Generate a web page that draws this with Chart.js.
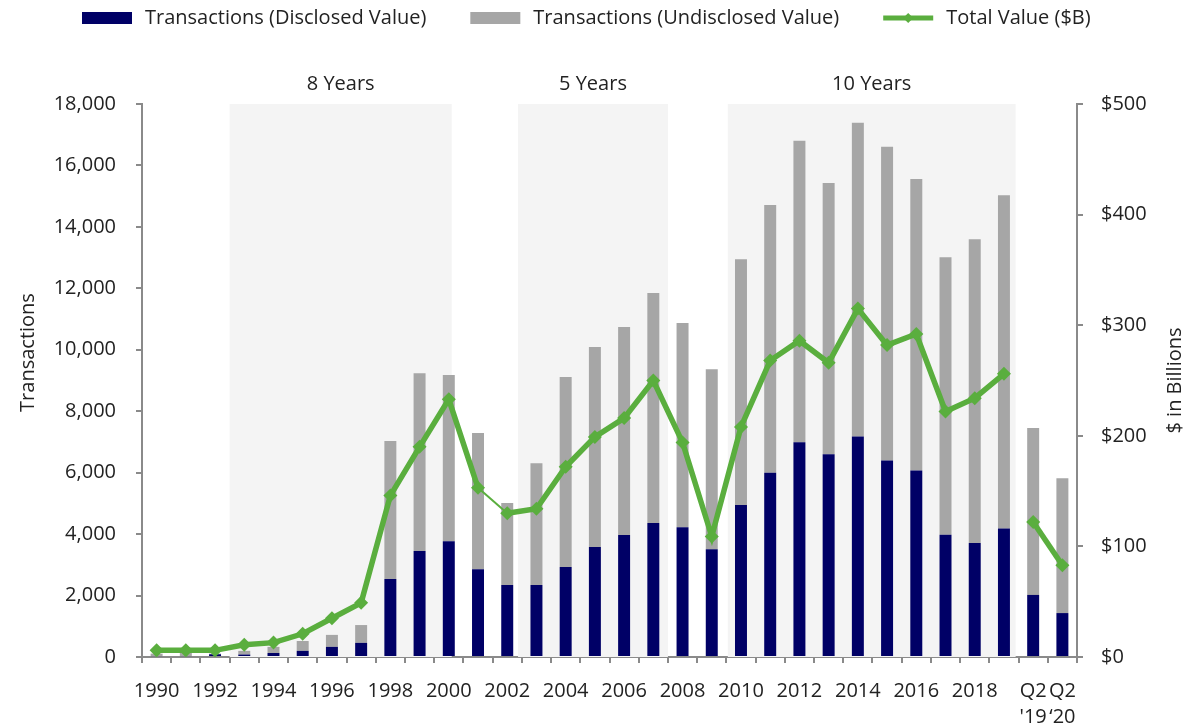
<!DOCTYPE html>
<html>
<head>
<meta charset="utf-8">
<title>Transactions and Total Value</title>
<script src="https://cdn.jsdelivr.net/npm/chart.js@4.4.0/dist/chart.umd.min.js"></script>
<style>
  html, body { margin: 0; padding: 0; background: #fff; }
  #wrap { width: 1198px; height: 728px; position: relative; }
</style>
</head>
<body>
<div id="wrap"><canvas id="dealsChart"></canvas></div>
<script>
// -------------------
// DATA

const years = [
  "1990", "1991", "1992", "1993", "1994", "1995", "1996", "1997", "1998", "1999",
  "2000", "2001", "2002", "2003", "2004", "2005", "2006", "2007", "2008", "2009",
  "2010", "2011", "2012", "2013", "2014", "2015", "2016", "2017", "2018", "2019",
  ["Q2", "'19"], ["Q2", "\u201820"],
];

// number of transactions with a disclosed value
const disclosed = [
  30, 30, 90, 80, 130, 200, 330, 460, 2540, 3450,
  3770, 2860, 2340, 2340, 2930, 3580, 3970, 4360, 4220, 3510,
  4950, 6000, 6990, 6600, 7180, 6400, 6070, 3980, 3710, 4180,
  2020, 1430,
];

// number of transactions without a disclosed value
const undisclosed = [
  80, 100, 20, 120, 200, 320, 390, 580, 4490, 5790,
  5410, 4430, 2670, 3970, 6180, 6510, 6770, 7490, 6650, 5860,
  8000, 8710, 9810, 8830, 10210, 10210, 9490, 9030, 9890, 10850,
  5430, 4390,
];

// total value, $B
const totalValue = [
  6, 6, 6, 11, 13, 21, 35, 49, 146, 190,
  233, 153, 130, 134, 172, 199, 216, 250, 194, 109,
  208, 268, 286, 266, 315, 282, 292, 222, 234, 256,
  122, 83,
];

const seriesNames = ["Transactions (Disclosed Value)", "Transactions (Undisclosed Value)", "Total Value ($B)"];
const periodLabels = ["8 Years", "5 Years", "10 Years"];

// -------------------
// STYLE

const NAVY = "#000066";
const GREY = "#a6a6a6";
const GREEN = "#5aae3e";
const AXIS = "#8a8a8a";
const TEXT = "#222222";
const FONT = "'Open Sans', sans-serif";

// shaded periods, in category index units
const periodSpans = [
  [2.5, 10.1],
  [12.37, 17.5],
  [19.55, 29.4],
];

Chart.defaults.font.family = FONT;
Chart.defaults.font.size = 20;
Chart.defaults.color = TEXT;

// -------------------
// PLUGINS

const periodBands = {
  id: "periodBands",
  beforeDatasetsDraw(chart) {
    const { ctx, chartArea, scales } = chart;
    ctx.save();
    ctx.fillStyle = "#f4f4f4";
    periodSpans.forEach(([from, to]) => {
      const x1 = scales.x.getPixelForValue(from);
      const x2 = scales.x.getPixelForValue(to);
      ctx.fillRect(x1, chartArea.top, x2 - x1, chartArea.bottom - chartArea.top);
    });
    ctx.restore();
  },
  afterDraw(chart) {
    const { ctx, scales } = chart;
    ctx.save();
    ctx.font = `20px ${FONT}`;
    ctx.fillStyle = TEXT;
    ctx.textAlign = "center";
    ctx.textBaseline = "middle";
    periodSpans.forEach(([from, to], i) => {
      const cx = (scales.x.getPixelForValue(from) + scales.x.getPixelForValue(to)) / 2;
      ctx.fillText(periodLabels[i], cx, 84);
    });
    ctx.restore();
  },
};

// axis titles, both reading bottom to top
const axisTitles = {
  id: "axisTitles",
  afterDraw(chart) {
    const { ctx, chartArea } = chart;
    const mid = (chartArea.top + chartArea.bottom) / 2;
    const titles = [
      ["Transactions", 28, mid - 28],
      ["$ in Billions", chart.scales.y1.right - 23, mid],
    ];
    ctx.save();
    ctx.font = `20px ${FONT}`;
    ctx.fillStyle = TEXT;
    ctx.textAlign = "center";
    ctx.textBaseline = "middle";
    titles.forEach(([text, x, y]) => {
      ctx.save();
      ctx.translate(x, y);
      ctx.rotate(-Math.PI / 2);
      ctx.fillText(text, 0, 0);
      ctx.restore();
    });
    ctx.restore();
  },
};

const legendRow = {
  id: "legendRow",
  afterDraw(chart) {
    const ctx = chart.ctx;
    const y = 18;
    let x = 82;
    ctx.save();
    ctx.font = `20px ${FONT}`;
    ctx.textBaseline = "middle";
    chart.data.datasets.forEach(ds => {
      if (ds.type === "line") {
        ctx.strokeStyle = ds.borderColor;
        ctx.lineWidth = 5;
        ctx.beginPath();
        ctx.moveTo(x, y);
        ctx.lineTo(x + 50, y);
        ctx.stroke();
        ctx.fillStyle = ds.borderColor;
        ctx.beginPath();
        ctx.moveTo(x + 25, y - 5);
        ctx.lineTo(x + 30, y);
        ctx.lineTo(x + 25, y + 5);
        ctx.lineTo(x + 20, y);
        ctx.fill();
      } else {
        ctx.fillStyle = ds.backgroundColor;
        ctx.fillRect(x, y - 6, 50, 12);
      }
      ctx.fillStyle = TEXT;
      ctx.fillText(ds.label, x + 63, y);
      x += 63 + ctx.measureText(ds.label).width + 44;
    });
    ctx.restore();
  },
};

// -------------------
// CHART

const axisGrid = {
  drawOnChartArea: false,
  drawTicks: true,
  tickLength: 6,
  color: AXIS,
  lineWidth: 2,
};

const canvasHTML = document.getElementById("dealsChart");
const dealsChart = new Chart(canvasHTML, {
  data: {
    labels: years,
    datasets: [
      {
        type: "bar",
        label: seriesNames[0],
        data: disclosed,
        backgroundColor: NAVY,
        stack: "tx",
        order: 1,
        barPercentage: 0.41,
        categoryPercentage: 1,
      },
      {
        type: "bar",
        label: seriesNames[1],
        data: undisclosed,
        backgroundColor: GREY,
        stack: "tx",
        order: 2,
        barPercentage: 0.41,
        categoryPercentage: 1,
      },
      {
        type: "line",
        label: seriesNames[2],
        data: totalValue,
        yAxisID: "y1",
        order: 0,
        borderColor: GREEN,
        borderWidth: 5.5,
        pointStyle: "rectRot",
        pointRadius: 7,
        pointBackgroundColor: GREEN,
        pointBorderWidth: 0,
        tension: 0,
        segment: {
          borderWidth: ctx => (ctx.p0DataIndex === 11 ? 2 : undefined),
          borderColor: ctx => (ctx.p0DataIndex === 29 ? "rgba(0,0,0,0)" : undefined),
        },
      },
    ],
  },
  options: {
    responsive: true,
    maintainAspectRatio: false,
    animation: false,
    layout: { padding: { top: 104, left: 0, right: 0, bottom: 0 } },
    plugins: {
      legend: { display: false },
      tooltip: { enabled: false },
    },
    scales: {
      x: {
        stacked: true,
        grid: { ...axisGrid, offset: true },
        border: { display: true, color: AXIS, width: 2 },
        ticks: {
          autoSkip: false,
          maxRotation: 0,
          padding: 15,
          font: { size: 20, lineHeight: 1.3 },
          callback: function (value, index) {
            return index % 2 === 0 || index >= 30 ? this.getLabelForValue(value) : "";
          },
        },
        afterFit: scale => { scale.height = 71; },
      },
      y: {
        stacked: true,
        position: "left",
        min: 0,
        max: 18000,
        grid: axisGrid,
        border: { display: true, color: AXIS, width: 2 },
        ticks: {
          stepSize: 2000,
          padding: 20,
          callback: value => value.toLocaleString("en-US"),
        },
        afterFit: scale => { scale.width = 142; },
      },
      y1: {
        position: "right",
        min: 0,
        max: 500,
        grid: axisGrid,
        border: { display: true, color: AXIS, width: 2 },
        ticks: {
          stepSize: 100,
          padding: 18,
          callback: value => "$" + value,
        },
        afterFit: scale => { scale.width = 121; },
      },
    },
  },
  plugins: [periodBands, axisTitles, legendRow],
});
</script>
</body>
</html>
